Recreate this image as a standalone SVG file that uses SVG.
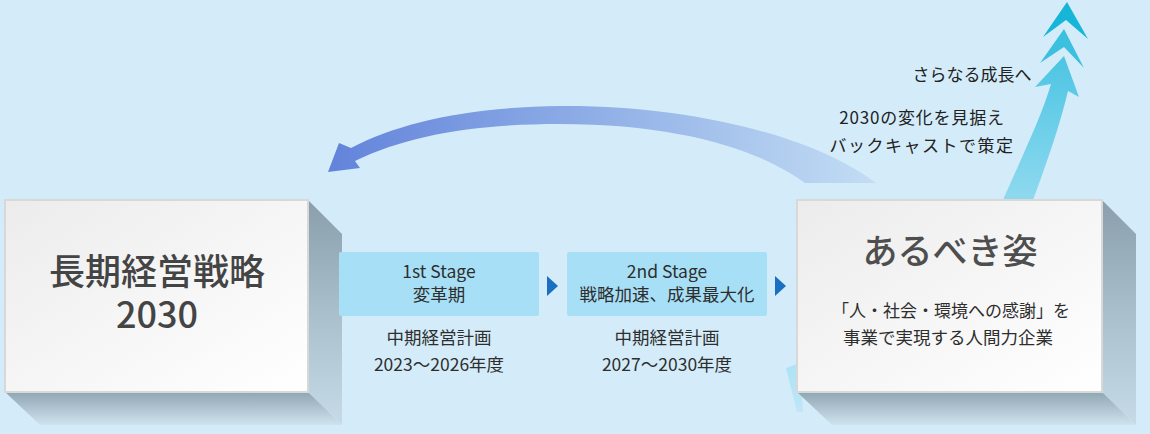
<svg xmlns="http://www.w3.org/2000/svg" width="1150" height="434" viewBox="0 0 1150 434">
<defs>
<style>
.jp{font-family:"Noto Sans CJK JP","Noto Sans",sans-serif;}
.title{font-size:36px;font-weight:500;fill:#444;text-anchor:middle;}
.sub{font-size:17.5px;fill:#2e2e2e;text-anchor:middle;}
.note{font-size:17px;fill:#222;text-anchor:middle;}
.face{stroke:#d8d8d8;stroke-width:2;fill:url(#faceG);}
.stage{fill:#a7e0f6;}
.tri{fill:#1a6fc2;}
</style>
<linearGradient id="faceG" x1="0" y1="0" x2="1" y2="1">
<stop offset="0" stop-color="#ececec"/>
<stop offset="1" stop-color="#ffffff"/>
</linearGradient>
<linearGradient id="sideG" x1="0" y1="0" x2="0" y2="1">
<stop offset="0" stop-color="#8a9eab"/>
<stop offset="0.5" stop-color="#a9bfcc"/>
<stop offset="1" stop-color="#c6dbe7"/>
</linearGradient>
<linearGradient id="botG" x1="0" y1="0" x2="0" y2="1">
<stop offset="0" stop-color="#90a6b3"/>
<stop offset="1" stop-color="#cfe3ee"/>
</linearGradient>
<linearGradient id="backG" gradientUnits="userSpaceOnUse" x1="330" y1="0" x2="876" y2="0">
<stop offset="0" stop-color="#6383db"/>
<stop offset="0.5" stop-color="#91b0e7"/>
<stop offset="1" stop-color="#c3ddf4"/>
</linearGradient>
<linearGradient id="upG" gradientUnits="userSpaceOnUse" x1="0" y1="200" x2="0" y2="56">
<stop offset="0" stop-color="#8fd9ef"/>
<stop offset="1" stop-color="#4cc5e3"/>
</linearGradient>
<linearGradient id="tailG" x1="0" y1="0" x2="0" y2="1">
<stop offset="0" stop-color="#a9e1f5" stop-opacity="0.9"/>
<stop offset="1" stop-color="#a9e1f5" stop-opacity="0.5"/>
</linearGradient>
</defs>
<rect width="1150" height="434" fill="#d4ecf9"/>

<g id="connectors">
<path id="backcast-arrow" d="M876,183 C820,140 700,105 560,106 C470,107 400,122 351,148 L339,143 L328,172 L360,168 L355,161 C410,134 480,124 560,124 C680,124 760,150 805,183 Z" fill="url(#backG)"/>
<polygon id="up-arrow-tail" points="786,368 800,363 803,412 797,412" fill="url(#tailG)"/>
<path id="up-arrow" d="M1003,200 C1025,150 1042,115 1051,84 L1035,87 L1064,56 L1079,97 L1068,91 C1060,125 1046,165 1033,200 Z" fill="url(#upG)"/>
<path id="chevron-2" d="M1040,63 L1064,29 L1084,68 L1064,47 Z" fill="#3bc1df"/>
<path id="chevron-1" d="M1043,37 L1067,2 L1088,39 L1066,20 Z" fill="#15b6d7"/>
<polygon class="tri" points="323,276 334,286 323,296"/>
<polygon class="tri" points="547,276 558,286 547,296"/>
<polygon class="tri" points="775,276 786,286 775,296"/>
</g>

<g id="node-long-term">
<polygon points="308,200 342,234 342,425 308,392" fill="url(#sideG)"/>
<polygon points="5,392 308,392 342,425 40,425" fill="url(#botG)"/>
<rect class="face" x="5" y="200" width="303" height="192"/>
<text class="jp title"><tspan x="157" y="285">長期経営戦略</tspan><tspan x="157" y="328">2030</tspan></text>
</g>

<g id="node-stage1">
<rect class="stage" x="339" y="252" width="200" height="64" rx="2"/>
<text class="jp sub" x="439" y="278">1st Stage</text>
<text class="jp sub" x="439" y="301">変革期</text>
<text class="jp sub" x="439" y="344">中期経営計画</text>
<text class="jp sub" x="439" y="371">2023〜2026年度</text>
</g>

<g id="node-stage2">
<rect class="stage" x="567" y="252" width="200" height="64" rx="2"/>
<text class="jp sub" x="667" y="278">2nd Stage</text>
<text class="jp sub" x="667" y="301">戦略加速、成果最大化</text>
<text class="jp sub" x="667" y="344">中期経営計画</text>
<text class="jp sub" x="667" y="371">2027〜2030年度</text>
</g>

<g id="node-ideal">
<polygon points="1102,200 1136,234 1136,425 1102,392" fill="url(#sideG)"/>
<polygon points="797,392 1102,392 1136,425 832,425" fill="url(#botG)"/>
<rect class="face" x="797" y="200" width="305" height="192"/>
<text class="jp title" x="950" y="264" style="font-size:35px;fill:#4e4e4e">あるべき姿</text>
<text class="jp sub" x="951" y="317" style="font-size:17px">「人・社会・環境への感謝」を</text>
<text class="jp sub" x="948" y="344">事業で実現する人間力企業</text>
</g>

<g id="labels">
<text class="jp note" x="972" y="81">さらなる成長へ</text>
<text class="jp note" x="922" y="124" letter-spacing="0.8">2030の変化を見据え</text>
<text class="jp note" x="922" y="152" letter-spacing="1.5">バックキャストで策定</text>
</g>
</svg>
